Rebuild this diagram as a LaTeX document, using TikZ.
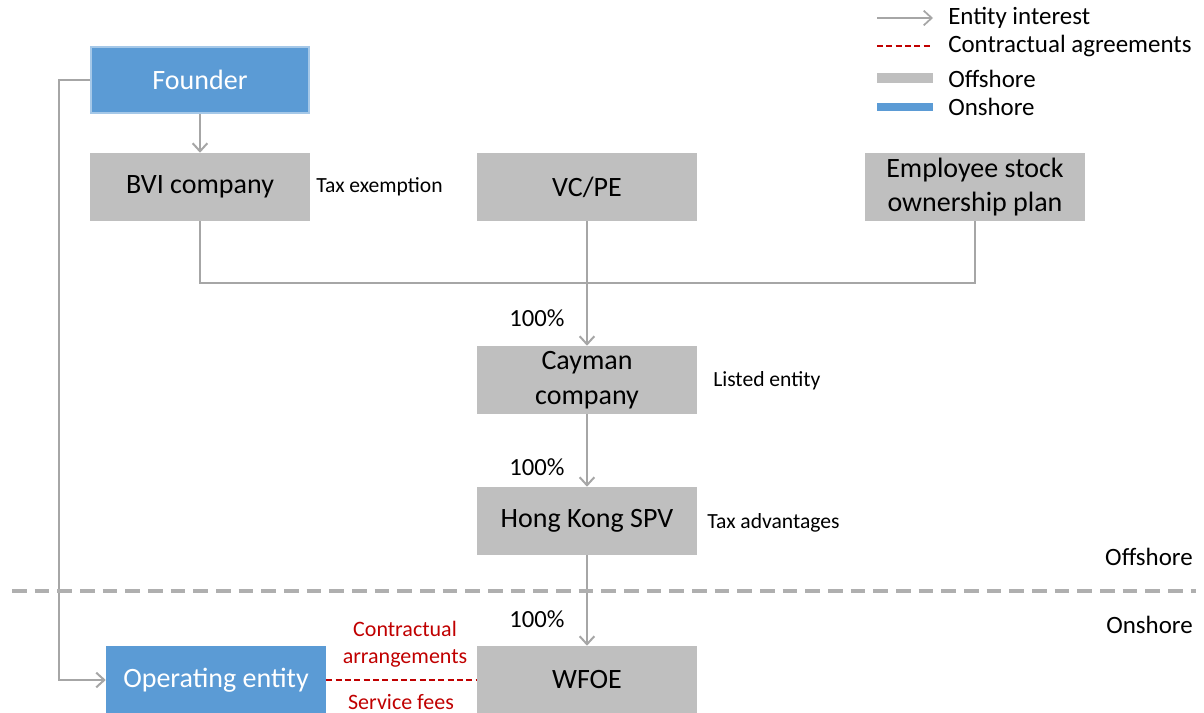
\documentclass[tikz,border=0pt]{standalone}
\usepackage{fontspec}
\setmainfont{Carlito}
\usepackage{tikz}
\usetikzlibrary{arrows.meta,positioning}
\definecolor{offgray}{HTML}{BFBFBF}
\definecolor{onblue}{HTML}{5B9BD5}
\definecolor{linkgray}{HTML}{A6A6A6}
\definecolor{dealred}{HTML}{C00000}

\begin{document}
\begin{tikzpicture}[x=0.75pt,y=-0.75pt,
  offbox/.style={fill=offgray,minimum width=165pt,minimum height=51pt,inner sep=0pt,align=center,font=\fontsize{21}{26}\selectfont},
  onbox/.style={offbox,fill=onblue,text=white},
  link/.style={draw=linkgray,line width=1.5pt,-{Straight Barb[length=6pt,width=11pt]}},
  plain/.style={draw=linkgray,line width=1.5pt},
  deal/.style={draw=dealred,line width=1.5pt,dashed,dash pattern=on 4.5pt off 2.5pt},
  note/.style={font=\fontsize{16.2}{19}\selectfont,anchor=west,inner sep=0pt},
  share/.style={font=\fontsize{18.5}{22}\selectfont,inner sep=0pt},
  legend/.style={font=\fontsize{18.7}{22}\selectfont,anchor=west,inner sep=0pt}]

\useasboundingbox (0,0) rectangle (1204,713);

%boxes
\node[onbox,draw=onblue!55!white,line width=1.5pt,minimum width=163pt,minimum height=50pt] (founder) at (200,80) {Founder};
\node[offbox] (bvi) at (200,187) {BVI company};
\node[offbox] (vcpe) at (587,187) {VC/PE};
\node[offbox] (esop) at (975,187) {Employee stock\\ownership plan};
\node[offbox] (cayman) at (587,380) {Cayman\\company};
\node[offbox] (hk) at (587,521) {Hong Kong SPV};
\node[offbox] (wfoe) at (587,680) {WFOE};
\node[onbox] (opent) at (216,680) {Operating entity};

%notes
\node[note] (taxex) at (316,187) {Tax exemption};
\node[note] (listed) at (713,381) {Listed entity};
\node[note] (taxadv) at (707,523) {Tax advantages};

%ownership
\coordinate (join) at (587,283);
\draw[link] (founder) -- (bvi);
\draw[plain] (bvi.south) |- (join) -| (esop.south);
\draw[link] (vcpe) -- (cayman);
\draw[link] (cayman) -- (hk);
\draw[link] (hk) -- (wfoe);
\draw[link] (founder.west) -- ++(-31,0) |- (opent.west);
\node[share] (s1) at (537,318) {100\%};
\node[share] (s2) at (537,467) {100\%};
\node[share] (s3) at (537,619) {100\%};

%contracts
\draw[deal] (opent.east) -- (wfoe.west);
\node[font=\fontsize{16.5}{20}\selectfont,text=dealred,align=center] (arr) at (405,644) {Contractual\\arrangements};
\node[font=\fontsize{16.5}{20}\selectfont,text=dealred] (fees) at (401,702) {Service fees};

%border
\draw[linkgray!90!white,line width=2.5pt,dash pattern=on 11pt off 6pt] (12,591) -- (1196,591);
\node[legend,anchor=east] (offs) at (1193,557) {Offshore};
\node[legend,anchor=east] (ons) at (1193,625) {Onshore};

%legend
\draw[link,line width=1.3pt] (877,18) -- (933,18);
\draw[deal] (877,46) -- (933,46);
\draw[offgray,line width=8pt] (877,78) -- (933,78);
\draw[onblue,line width=6pt] (877,107) -- (933,107);
\node[legend] (l1) at (948,18) {Entity interest};
\node[legend] (l2) at (948,46) {Contractual agreements};
\node[legend] (l3) at (948,79) {Offshore};
\node[legend] (l4) at (948,107) {Onshore};

\end{tikzpicture}
\end{document}
